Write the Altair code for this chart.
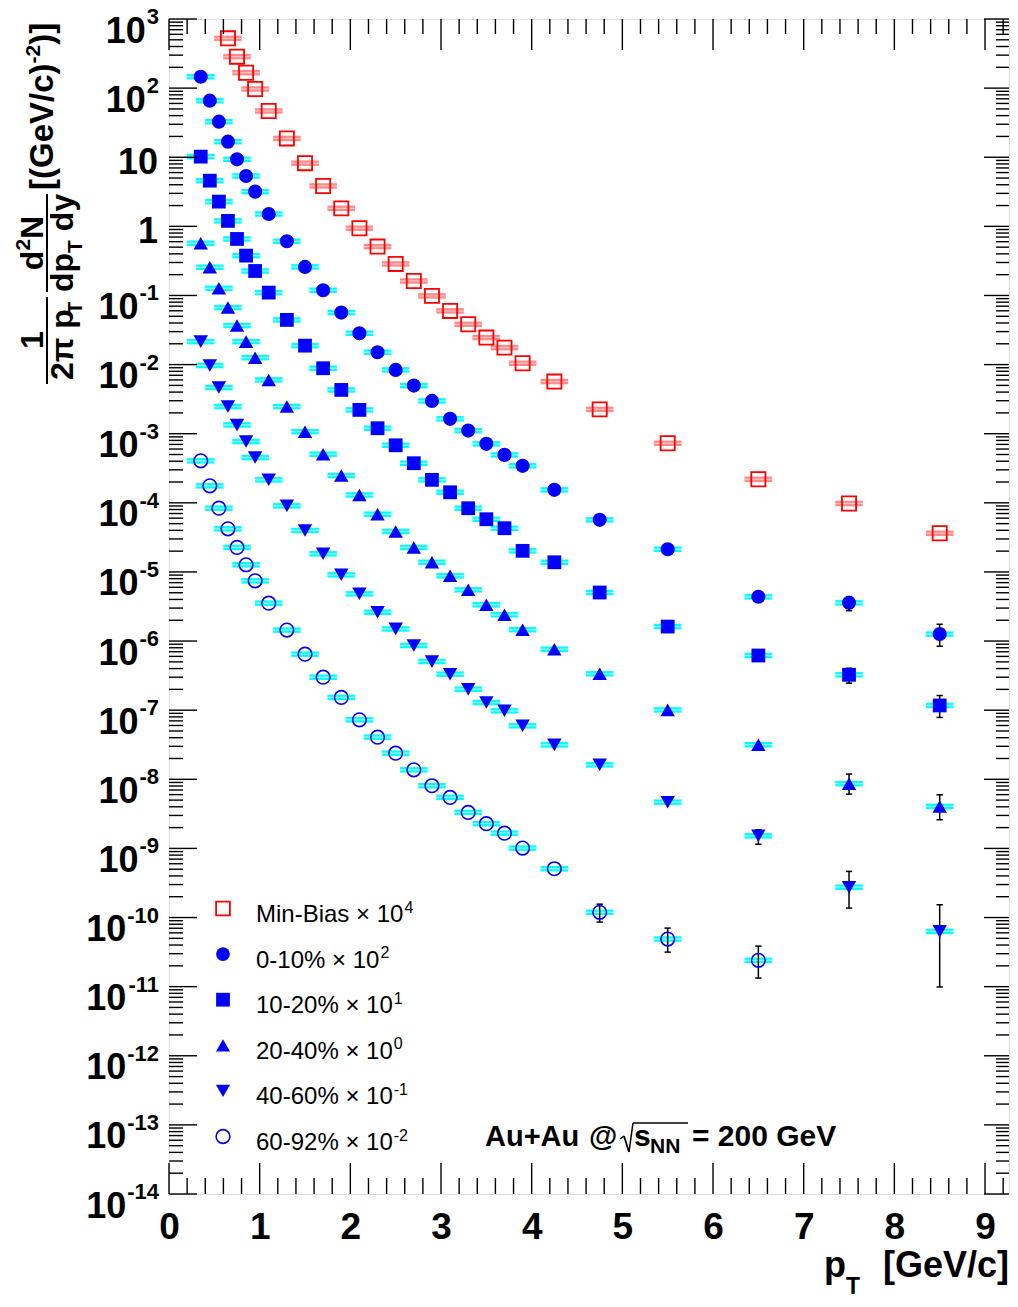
import altair as alt
import pandas as pd

# ---------------- data ----------------
pt_mb = [0.65, 0.75, 0.85, 0.95, 1.1, 1.3, 1.5, 1.7, 1.9, 2.1, 2.3, 2.5, 2.7, 2.9,
         3.1, 3.3, 3.5, 3.7, 3.9, 4.25, 4.75, 5.5, 6.5, 7.5, 8.5]
pt_c = [0.35, 0.45, 0.55, 0.65, 0.75, 0.85, 0.95, 1.1, 1.3, 1.5, 1.7, 1.9, 2.1, 2.3,
        2.5, 2.7, 2.9, 3.1, 3.3, 3.5, 3.7, 3.9, 4.25, 4.75, 5.5, 6.5, 7.5, 8.5]

minbias = [525, 285, 167, 97, 46.7, 18.7, 8.2, 3.84, 1.82, 0.94, 0.51, 0.286, 0.162,
           0.0986, 0.0598, 0.0383, 0.0246, 0.0176, 0.01045, 0.00568, 0.00225,
           7.27e-4, 2.19e-4, 9.77e-5, 3.63e-5]
c0_10 = [146, 65.8, 32.7, 16.8, 9.33, 5.36, 3.18, 1.51, 0.608, 0.259, 0.119, 0.0565,
         0.0284, 0.0151, 0.00838, 0.00497, 0.00298, 0.00164, 0.00111, 7.13e-4,
         4.94e-4, 3.43e-4, 1.54e-4, 5.67e-5, 2.13e-5, 4.37e-6, 3.57e-6, 1.26e-6]
c10_20 = [10.2, 4.58, 2.28, 1.2, 0.657, 0.377, 0.226, 0.11, 0.0443, 0.0188, 0.00885,
          0.0043, 0.00221, 0.0012, 6.8e-4, 3.74e-4, 2.15e-4, 1.42e-4, 8.35e-5,
          5.79e-5, 4.29e-5, 2.02e-5, 1.38e-5, 5.04e-6, 1.62e-6, 6.18e-7, 3.25e-7,
          1.17e-7]
c20_40 = [0.569, 0.256, 0.127, 0.0668, 0.0367, 0.0215, 0.0126, 0.006, 0.00247,
          0.00107, 5.05e-4, 2.48e-4, 1.3e-4, 6.84e-5, 3.85e-5, 2.26e-5, 1.38e-5,
          8.79e-6, 5.51e-6, 3.35e-6, 2.4e-6, 1.46e-6, 7.62e-7, 3.36e-7, 1.01e-7,
          3.16e-8, 8.63e-9, 4.05e-9]
c40_60 = [0.0215, 0.00968, 0.00465, 0.00247, 0.00134, 7.7e-4, 4.52e-4, 2.15e-4,
          9.04e-5, 3.98e-5, 1.83e-5, 9.08e-6, 4.82e-6, 2.61e-6, 1.5e-6, 8.62e-7,
          5.06e-7, 3.32e-7, 2.01e-7, 1.29e-7, 9.79e-8, 5.94e-8, 3.15e-8, 1.62e-8,
          4.67e-9, 1.52e-9, 2.75e-10, 6.3e-11]
c60_92 = [4.05e-4, 1.76e-4, 8.36e-5, 4.2e-5, 2.26e-5, 1.27e-5, 7.44e-6, 3.53e-6,
          1.44e-6, 6.46e-7, 3e-7, 1.53e-7, 7.26e-8, 4.07e-8, 2.39e-8, 1.37e-8,
          8.07e-9, 5.47e-9, 3.32e-9, 2.28e-9, 1.66e-9, 1.01e-9, 5.08e-10, 1.19e-10,
          4.88e-11, 2.4e-11]

# statistical error bars where they are visible
err_pt = [7.5, 8.5, 7.5, 8.5, 7.5, 8.5, 6.5, 7.5, 8.5, 4.75, 5.5, 6.5]
err_lo = [2.75e-6, 8.4e-7, 2.46e-7, 7.85e-8, 6.1e-9, 2.6e-9, 1.15e-9, 1.37e-10,
          9.9e-12, 8.6e-11, 3.16e-11, 1.33e-11]
err_hi = [4.4e-6, 1.75e-6, 4.04e-7, 1.63e-7, 1.19e-8, 5.97e-9, 1.86e-9, 4.65e-10,
          1.53e-10, 1.56e-10, 7.03e-11, 3.86e-11]

legend_labels = ["Min-Bias × 10", "0-10% × 10", "10-20% × 10", "20-40% × 10",
                 "40-60% × 10", "60-92% × 10"]
legend_exps = ["4", "2", "1", "0", "-1", "-2"]

x_major = [0, 1, 2, 3, 4, 5, 6, 7, 8, 9]
y_exps = list(range(-14, 4))

# ---------------- layout constants ----------------
W, H = 840, 1175
OX, OY = 169, 19          # page position of plot origin
XMAX = W / 90.67
FONT = "Liberation Sans"
BLUE = "#0000ff"
CYAN = "#00ffff"

xs = alt.Scale(domain=[0, XMAX], nice=False, zero=False)
ys = alt.Scale(type="log", domain=[1e-14, 1e3], nice=False)
AX = alt.Axis(values=x_major, labelFontSize=37, labelFont=FONT, labelFontWeight="bold",
              labelColor="black", ticks=False, domain=False, grid=False,
              labelPadding=15, labelFlush=False, title=None, format="d")

def X(f):
    return alt.X(f, type="quantitative", scale=xs, axis=AX)

def Y(f):
    return alt.Y(f, type="quantitative", scale=ys, axis=None)

# ---------------- build tables ----------------
def series_df(name, pts, vals):
    return pd.DataFrame({"series": name, "pt": pts[:len(vals)], "val": vals})

df_mb = series_df("mb", pt_mb, minbias)
df_c = pd.concat([
    series_df("c0", pt_c, c0_10), series_df("c1", pt_c, c10_20),
    series_df("c2", pt_c, c20_40), series_df("c3", pt_c, c40_60),
    series_df("c4", pt_c, c60_92)])
df_err = pd.DataFrame({"pt": err_pt, "lo": err_lo, "hi": err_hi})

layers = []

# systematic bands
def band(df, outer, inner):
    base = alt.Chart(df).transform_calculate(
        x1="datum.pt - 0.152", x2="datum.pt + 0.152")
    return [
        base.mark_rule(color=outer, strokeWidth=5.5).encode(
            x=X("x1"), x2="x2:Q", y=Y("val")),
        base.mark_rule(color=inner, strokeWidth=1.2).encode(
            x=X("x1"), x2="x2:Q", y=Y("val")),
    ]

layers += band(df_c, CYAN, "#a8ffff")
layers += band(df_mb, "#ff8a8a", "#ffc4c4")

# error bars
eb = alt.Chart(df_err)
layers.append(eb.mark_rule(color="black", strokeWidth=1.5).encode(
    x=X("pt"), y=Y("lo"), y2="hi:Q"))
capw = 0.035
for fld in ["lo", "hi"]:
    layers.append(eb.transform_calculate(a=f"datum.pt - {capw}", b=f"datum.pt + {capw}")
                  .mark_rule(color="black", strokeWidth=1.5)
                  .encode(x=X("a"), x2="b:Q", y=Y(fld)))

# markers
marker_styles = {
    "mb": dict(shape="square", filled=False, color="#ff0000", size=200, strokeWidth=1.8),
    "c0": dict(shape="circle", filled=True, color=BLUE, size=200),
    "c1": dict(shape="square", filled=True, color=BLUE, size=190),
    "c2": dict(shape="triangle-up", filled=True, color=BLUE, size=210),
    "c3": dict(shape="triangle-down", filled=True, color=BLUE, size=210),
    "c4": dict(shape="circle", filled=False, color=BLUE, size=185, strokeWidth=1.6),
}
for key in ["c0", "c1", "c2", "c3", "c4"]:
    st = marker_styles[key]
    layers.append(alt.Chart(df_c[df_c.series == key]).mark_point(opacity=1, **st)
                  .encode(x=X("pt"), y=Y("val")))
layers.append(alt.Chart(df_mb).mark_point(opacity=1, **marker_styles["mb"])
              .encode(x=X("pt"), y=Y("val")))

# ---------------- inner ticks (ROOT style) ----------------
x_minor = [round(i * 0.2, 2) for i in range(0, 47) if (i % 5) != 0]
y_major = [10.0 ** e for e in y_exps]
y_minor = [k * 10.0 ** e for e in y_exps[:-1] for k in range(2, 10)]
dxM = pd.DataFrame({"v": x_major})
dxm = pd.DataFrame({"v": x_minor})
dyM = pd.DataFrame({"v": y_major})
dym = pd.DataFrame({"v": y_minor})
TK = dict(color="black", strokeWidth=1.4)
layers += [
    alt.Chart(dxM).mark_rule(**TK).encode(x=X("v"), y=alt.value(H), y2=alt.value(H - 31)),
    alt.Chart(dxm).mark_rule(**TK).encode(x=X("v"), y=alt.value(H), y2=alt.value(H - 16)),
    alt.Chart(dxM).mark_rule(**TK).encode(x=X("v"), y=alt.value(0), y2=alt.value(31)),
    alt.Chart(dxm).mark_rule(**TK).encode(x=X("v"), y=alt.value(0), y2=alt.value(15)),
    alt.Chart(dyM).mark_rule(**TK).encode(y=Y("v"), x=alt.value(0), x2=alt.value(28)),
    alt.Chart(dym).mark_rule(**TK).encode(y=Y("v"), x=alt.value(0), x2=alt.value(14)),
    alt.Chart(dyM).mark_rule(**TK).encode(y=Y("v"), x=alt.value(W), x2=alt.value(W - 25)),
    alt.Chart(dym).mark_rule(**TK).encode(y=Y("v"), x=alt.value(W), x2=alt.value(W - 13)),
]

# ---------------- y tick labels (10 with superscript exponent) ----------------
ylab = pd.DataFrame({"e": y_exps, "v": y_major})
ylab["base"] = ["1" if e == 0 else "10" for e in y_exps]
ylab["exp"] = ["" if e in (0, 1) else str(e) for e in y_exps]
ylab["n"] = [len(s) for s in ylab["exp"]]
BASE_FS, EXP_FS = 36, 22
RX = -10
expw = {1: 0.556 * EXP_FS, 2: 0.889 * EXP_FS, 3: 1.445 * EXP_FS}
yl = alt.Chart(ylab)
layers.append(yl.transform_filter("datum.n > 0").mark_text(
    font=FONT, fontWeight="bold", fontSize=EXP_FS, align="right", baseline="alphabetic",
    dy=5, color="black").encode(y=Y("v"), x=alt.value(RX), text="exp:N"))
for n in (1, 2, 3):
    layers.append(yl.transform_filter(f"datum.n == {n}").mark_text(
        font=FONT, fontWeight="bold", fontSize=BASE_FS, align="right",
        baseline="alphabetic", dy=23.5, color="black").encode(
        y=Y("v"), x=alt.value(RX - expw[n] - 1), text="base:N"))
layers.append(yl.transform_filter("datum.n == 0").mark_text(
    font=FONT, fontWeight="bold", fontSize=BASE_FS, align="right",
    baseline="alphabetic", dy=17, color="black").encode(
    y=Y("v"), x=alt.value(RX - 1), text="base:N"))

# ---------------- free text helpers ----------------
one = pd.DataFrame({"a": [0]})

def txt(s, px, py, size, weight="bold", align="left", angle=0, color="black"):
    kw = dict(text=s, font=FONT, fontSize=size, fontWeight=weight, align=align,
              baseline="alphabetic", color=color)
    if angle:
        kw["angle"] = angle
    return alt.Chart(one).mark_text(**kw).encode(x=alt.value(px - OX), y=alt.value(py - OY))

def seg(x1, y1, x2, y2, w=1.5):
    return alt.Chart(one).mark_rule(color="black", strokeWidth=w).encode(
        x=alt.value(x1 - OX), y=alt.value(y1 - OY),
        x2=alt.value(x2 - OX), y2=alt.value(y2 - OY))

# x-axis title  p_T [GeV/c]
layers += [
    txt("[GeV/c]", 1009, 1277, 36, align="right"),
    txt("p", 824, 1277, 36),
    txt("T", 846, 1294, 23),
]

# y-axis title (rotated, reads bottom to top)
TB, TFR, TS = 33, 32, 21
y0 = 190
w1 = 3.834 * TB
layers += [
    txt("[(GeV/c)", 53, y0, TB, angle=270),
    txt("-2", 40, y0 - w1, TS, angle=270),
    txt(")]", 53, y0 - w1 - 0.889 * TS, TB, angle=270),
]
# d2N / (dpT dy)
c2 = 243
wn = (0.611 + 0.556 * TS / TFR + 0.722) * TFR
ys0 = c2 + wn / 2
layers += [
    txt("d", 43, ys0, TFR, angle=270),
    txt("2", 30, ys0 - 0.611 * TFR, TS, angle=270),
    txt("N", 43, ys0 - 0.611 * TFR - 0.556 * TS, TFR, angle=270),
    seg(47, 194, 47, 292, 2),
    txt("dp", 73, 292, TFR, angle=270),
    txt("T", 82, 292 - 1.222 * TFR, TS, angle=270),
    txt("dy", 73, 292 - 1.222 * TFR - 0.611 * TS - 0.278 * TFR, TFR, angle=270),
]
# 1 / (2 pi pT)
c1 = 340
layers += [
    txt("1", 43, c1, TFR, align="center", angle=270),
    seg(47, 297, 47, 384, 2),
    txt("2π p", 73, 380, TFR, angle=270),
    txt("T", 82, 380 - 2.05 * TFR, TS, angle=270),
]

# collision label  Au+Au @ sqrt(s_NN) = 200 GeV
layers += [
    txt("Au+Au", 485, 1146, 29),
    txt("@", 589, 1146, 29),
    seg(620, 1139, 624, 1136, 1.5),
    seg(624, 1136, 629, 1152, 1.8),
    seg(629, 1152, 633, 1123, 1.5),
    seg(633, 1123, 688, 1123, 1.5),
    txt("s", 634, 1146, 30),
    txt("NN", 650, 1153, 21),
    txt("= 200 GeV", 692, 1146, 30),
]

# legend
leg_shapes = ["mb", "c0", "c1", "c2", "c3", "c4"]
cw = {"M": .833, "i": .222, "n": .556, "-": .333, "B": .667, "a": .556, "s": .5,
      "%": .889, "×": .584, " ": .278}
for i, key in enumerate(leg_shapes):
    yc = 908.5 + i * 45.6
    st = dict(marker_styles[key])
    st["size"] = 190 if key not in ("c2", "c3") else 200
    layers.append(alt.Chart(one).mark_point(opacity=1, **st).encode(
        x=alt.value(223 - OX), y=alt.value(yc - OY)))
    lab = legend_labels[i]
    layers.append(txt(lab, 256, yc + 13.5, 24, weight="normal"))
    wlab = sum(cw.get(ch, .556) for ch in lab) * 24
    layers.append(txt(legend_exps[i], 256 + wlab + 1, yc + 4, 16, weight="normal"))

svg_h = 1307 - 16
chart = alt.layer(*layers).properties(
    width=W, height=H,
    autosize=alt.AutoSizeParams(type="none"),
    padding={"left": OX - 8, "top": OY - 8, "right": 1,
             "bottom": svg_h - (OY - 8) - H},
).configure_view(stroke="black", strokeWidth=2).configure(background="white")

chart.save("out.html", embed_options={"renderer": "svg", "actions": False})
